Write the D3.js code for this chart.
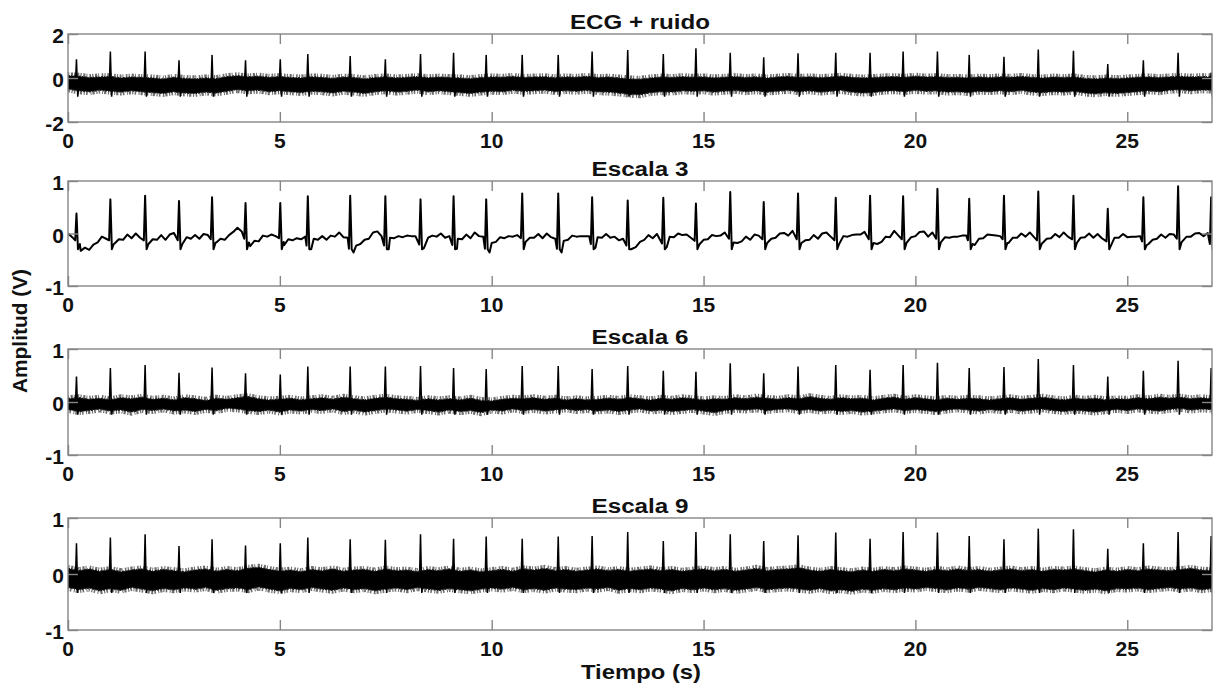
<!DOCTYPE html>
<html>
<head>
<meta charset="utf-8">
<script src="https://cdn.jsdelivr.net/npm/d3@7"></script>
<style>
  body{margin:0;background:#fff;}
  svg{display:block;font-family:"Liberation Sans",Arial,sans-serif;font-weight:bold;}
</style>
</head>
<body>
<script>
const W=1214, H=685;

const TITULOS=["ECG + ruido","Escala 3","Escala 6","Escala 9"];
const X_TICKS=[0,5,10,15,20,25];
const Y_TICKS=[[-2,0,2],[-1,0,1],[-1,0,1],[-1,0,1]];
const Y_DOMINIOS=[[-2,2],[-1,1],[-1,1],[-1,1]];

// instantes de los latidos (s)
const latidos=[0.20,1.00,1.82,2.62,3.40,4.19,5.01,5.66,6.66,7.49,
  8.32,9.10,9.87,10.72,11.57,12.37,13.21,14.05,14.82,15.63,16.42,17.23,
  18.12,18.93,19.71,20.52,21.27,22.09,22.90,23.73,24.54,25.38,26.20,26.98];

// amplitud de la onda R en cada panel
const picosRuido=[0.85,1.2,1.2,0.8,1.05,0.8,0.85,1.09,1.0,0.85,
  1.09,1.15,1.05,1.05,1.05,1.2,1.27,1.09,1.35,1.15,0.94,1.12,
  1.15,1.15,1.2,1.2,1.05,0.97,1.3,1.24,0.64,0.8,1.15,0.25];
const picos3=[0.38,0.65,0.72,0.62,0.69,0.58,0.58,0.71,0.72,0.71,
  0.65,0.71,0.65,0.76,0.76,0.69,0.63,0.68,0.57,0.79,0.60,0.76,
  0.68,0.72,0.71,0.85,0.66,0.72,0.80,0.72,0.47,0.69,0.90,0.69];
const picos6=[0.48,0.64,0.70,0.55,0.65,0.54,0.52,0.67,0.67,0.67,
  0.68,0.64,0.62,0.68,0.68,0.62,0.68,0.59,0.57,0.73,0.54,0.67,
  0.70,0.61,0.70,0.74,0.64,0.66,0.81,0.70,0.48,0.59,0.78,0.64];
const picos9=[0.55,0.65,0.71,0.50,0.62,0.51,0.55,0.65,0.62,0.61,
  0.71,0.63,0.67,0.63,0.67,0.68,0.75,0.59,0.75,0.71,0.59,0.69,
  0.74,0.63,0.75,0.74,0.68,0.62,0.81,0.80,0.45,0.55,0.75,0.68];

// valor minimo de la onda S en cada panel
const ondaS=[-0.85,-0.30,-0.24,-0.34];

// Escala 3: linea base cada 0.1 s
const base3=[
 0.00,-0.07,-0.08,-0.33,-0.27,-0.31,-0.21,-0.17,-0.06,-0.10,
 -0.08,-0.19,-0.11,-0.12,-0.02,-0.09,0.00,-0.08,-0.08,-0.15,
 -0.11,-0.12,-0.03,-0.12,-0.02,0.01,-0.08,-0.16,-0.07,-0.10,
 -0.03,-0.10,-0.01,-0.03,-0.06,-0.17,-0.10,-0.12,-0.03,0.03,
 0.11,0.04,-0.05,-0.24,-0.14,-0.15,-0.04,-0.06,-0.02,-0.05,
 -0.04,-0.22,-0.11,-0.13,-0.09,-0.11,-0.06,-0.18,-0.10,-0.12,
 -0.05,-0.12,-0.04,-0.06,0.02,-0.07,-0.08,-0.24,-0.23,-0.20,
 -0.12,-0.10,0.02,0.04,-0.05,-0.18,-0.08,-0.09,-0.05,-0.07,
 -0.04,-0.05,-0.05,-0.16,-0.07,-0.08,-0.04,-0.06,0.00,-0.08,
 -0.05,-0.17,-0.10,-0.11,-0.02,-0.09,0.02,-0.05,-0.06,-0.24,
 -0.18,-0.16,-0.07,-0.09,-0.05,-0.06,-0.03,-0.04,-0.16,-0.08,
 -0.08,-0.01,-0.09,0.00,-0.07,-0.10,-0.24,-0.14,-0.12,-0.04,
 -0.06,-0.05,-0.05,-0.05,-0.15,-0.07,-0.08,-0.01,-0.08,-0.06,
 -0.13,-0.10,-0.18,-0.18,-0.26,-0.16,-0.12,-0.03,-0.09,-0.01,
 -0.05,-0.14,-0.06,-0.07,0.00,-0.03,-0.02,-0.08,-0.09,-0.19,
 -0.12,-0.11,-0.03,-0.05,-0.04,0.02,-0.05,-0.27,-0.18,-0.15,
 -0.06,-0.12,-0.02,-0.04,-0.06,-0.20,-0.10,-0.08,0.00,0.01,
 -0.04,0.05,-0.06,-0.20,-0.13,-0.12,-0.03,-0.10,0.00,0.02,
 -0.06,-0.08,-0.14,-0.05,-0.06,-0.03,-0.02,-0.02,0.03,-0.06,
 -0.18,-0.20,-0.16,-0.06,-0.07,0.05,-0.04,-0.06,-0.14,-0.07,
 -0.05,0.03,0.04,-0.06,0.02,-0.05,-0.16,-0.07,-0.08,-0.06,
 -0.06,-0.04,-0.04,-0.08,-0.22,-0.10,-0.09,-0.02,-0.03,-0.04,
 -0.05,-0.06,-0.18,-0.08,-0.08,0.00,-0.06,0.02,-0.07,-0.08,
 -0.18,-0.10,-0.09,-0.01,-0.07,0.02,-0.06,-0.06,-0.17,-0.08,
 -0.07,0.00,-0.08,-0.01,-0.09,-0.10,-0.16,-0.08,-0.08,-0.01,
 -0.07,-0.06,-0.06,-0.05,-0.10,-0.20,-0.12,-0.10,-0.02,-0.08,
 -0.01,-0.02,-0.05,-0.15,-0.06,-0.06,0.00,0.01,-0.05,0.01,
 -0.15];

// bandas de ruido (borde superior / inferior) cada 0.25 s
const altoRuido=[0.10,0.08,0.02,0.05, 0.06,0.00,0.04,0.02, 0.00,-0.05,0.03,-0.02, -0.04,0.00,-0.03,0.06,
 0.10,0.05,0.08,0.03, 0.06,0.02,0.00,0.05, 0.03,-0.02,0.04,0.02, -0.04,0.02,0.05,0.00,
 0.03,0.06,0.01,0.04, 0.02,0.00,-0.03,0.02, 0.05,0.03,0.07,0.02, 0.04,0.06,0.01,0.05,
 0.03,0.07,0.02,0.04, 0.00,-0.04,-0.06,0.00, 0.04,0.02,0.06,0.03, 0.05,0.01,0.03,0.06,
 0.02,0.05,0.00,0.04, 0.07,0.03,0.05,0.02, 0.04,0.08,0.03,0.00, 0.02,0.05,0.06,0.03,
 0.08,0.04,0.06,0.02, 0.03,0.00,0.04,0.02, 0.05,0.03,0.07,0.02, 0.00,0.04,0.02,0.05,
 -0.02,-0.04,0.00,-0.03, 0.00,0.03,0.05,0.02, 0.05,0.07,0.04,0.06, 0.05];
const bajoRuido=[-0.50,-0.58,-0.62,-0.55, -0.60,-0.64,-0.58,-0.62, -0.66,-0.70,-0.62,-0.68, -0.70,-0.64,-0.68,-0.60,
 -0.52,-0.58,-0.55,-0.62, -0.58,-0.62,-0.66,-0.60, -0.62,-0.68,-0.60,-0.64, -0.70,-0.62,-0.58,-0.64,
 -0.60,-0.55,-0.62,-0.58, -0.62,-0.66,-0.70,-0.64, -0.60,-0.62,-0.56,-0.60, -0.58,-0.55,-0.62,-0.57,
 -0.60,-0.56,-0.62,-0.64, -0.68,-0.74,-0.76,-0.66, -0.62,-0.64,-0.58,-0.60, -0.58,-0.64,-0.60,-0.56,
 -0.62,-0.58,-0.64,-0.60, -0.56,-0.62,-0.58,-0.64, -0.60,-0.56,-0.64,-0.68, -0.66,-0.60,-0.58,-0.62,
 -0.56,-0.60,-0.58,-0.64, -0.62,-0.66,-0.60,-0.62, -0.58,-0.62,-0.56,-0.64, -0.66,-0.62,-0.64,-0.60,
 -0.68,-0.72,-0.66,-0.70, -0.66,-0.62,-0.58,-0.62, -0.56,-0.52,-0.58,-0.54, -0.55];
const alto6=[0.06,0.08,0.05,0.07, 0.04,0.08,0.06,0.09, 0.05,0.07,0.04,0.08, 0.06,0.03,0.07,0.05,
 0.08,0.10,0.06,0.04, 0.05,0.07,0.04,0.06, 0.08,0.05,0.09,0.06, 0.04,0.07,0.09,0.06,
 0.05,0.03,0.06,0.04, 0.06,0.04,0.07,0.03, 0.02,0.05,0.07,0.06, 0.08,0.05,0.07,0.04,
 0.06,0.04,0.05,0.07, 0.05,0.08,0.06,0.04, 0.07,0.05,0.08,0.06, 0.04,0.06,0.05,0.08,
 0.06,0.09,0.07,0.05, 0.08,0.06,0.10,0.07, 0.05,0.08,0.06,0.07, 0.04,0.07,0.09,0.05,
 0.08,0.06,0.04,0.07, 0.05,0.07,0.06,0.04, 0.06,0.08,0.05,0.07, 0.09,0.06,0.04,0.07,
 0.05,0.07,0.04,0.06, 0.05,0.08,0.06,0.09, 0.07,0.09,0.06,0.08, 0.06];
const bajo6=[-0.14,-0.18,-0.16,-0.13, -0.17,-0.15,-0.19,-0.14, -0.16,-0.13,-0.17,-0.15, -0.18,-0.14,-0.16,-0.12,
 -0.13,-0.16,-0.18,-0.15, -0.19,-0.15,-0.17,-0.14, -0.16,-0.13,-0.18,-0.15, -0.19,-0.16,-0.13,-0.15,
 -0.17,-0.14,-0.16,-0.19, -0.15,-0.18,-0.16,-0.20, -0.15,-0.17,-0.13,-0.16, -0.14,-0.17,-0.15,-0.13,
 -0.16,-0.14,-0.17,-0.15, -0.18,-0.15,-0.13,-0.17, -0.15,-0.18,-0.16,-0.14, -0.17,-0.20,-0.16,-0.14,
 -0.15,-0.13,-0.16,-0.14, -0.13,-0.16,-0.14,-0.17, -0.15,-0.18,-0.16,-0.19, -0.17,-0.15,-0.13,-0.16,
 -0.14,-0.16,-0.18,-0.15, -0.13,-0.15,-0.17,-0.14, -0.16,-0.14,-0.17,-0.15, -0.13,-0.16,-0.18,-0.15,
 -0.17,-0.19,-0.16,-0.14, -0.16,-0.13,-0.15,-0.17, -0.14,-0.12,-0.15,-0.13, -0.14];
const alto9=[0.10,0.06,0.09,0.05, 0.08,0.04,0.07,0.09, 0.05,0.08,0.06,0.04, 0.07,0.09,0.05,0.08,
 0.06,0.10,0.12,0.08, 0.05,0.07,0.04,0.08, 0.06,0.09,0.05,0.07, 0.08,0.05,0.09,0.06,
 0.07,0.04,0.08,0.06, 0.09,0.05,0.07,0.04, 0.06,0.08,0.05,0.09, 0.07,0.10,0.06,0.08,
 0.05,0.07,0.09,0.06, 0.08,0.05,0.07,0.09, 0.06,0.08,0.05,0.07, 0.09,0.06,0.08,0.05,
 0.07,0.10,0.06,0.08, 0.09,0.11,0.07,0.05, 0.08,0.06,0.04,0.07, 0.05,0.08,0.06,0.09,
 0.07,0.05,0.08,0.06, 0.09,0.06,0.08,0.05, 0.07,0.09,0.06,0.08, 0.05,0.08,0.07,0.09,
 0.06,0.04,0.07,0.05, 0.08,0.06,0.09,0.07, 0.06,0.08,0.10,0.07, 0.06];
const bajo9=[-0.24,-0.28,-0.25,-0.30, -0.26,-0.29,-0.24,-0.27, -0.30,-0.26,-0.28,-0.25, -0.27,-0.24,-0.29,-0.26,
 -0.25,-0.28,-0.23,-0.27, -0.30,-0.26,-0.28,-0.24, -0.27,-0.29,-0.25,-0.28, -0.26,-0.30,-0.27,-0.25,
 -0.28,-0.24,-0.27,-0.29, -0.26,-0.28,-0.30,-0.27, -0.25,-0.27,-0.24,-0.28, -0.26,-0.29,-0.25,-0.27,
 -0.28,-0.25,-0.27,-0.24, -0.29,-0.26,-0.28,-0.25, -0.27,-0.30,-0.26,-0.28, -0.25,-0.28,-0.26,-0.29,
 -0.27,-0.24,-0.28,-0.26, -0.25,-0.27,-0.29,-0.26, -0.30,-0.28,-0.31,-0.27, -0.29,-0.26,-0.28,-0.25,
 -0.27,-0.24,-0.26,-0.28, -0.25,-0.27,-0.24,-0.26, -0.28,-0.25,-0.27,-0.29, -0.26,-0.28,-0.25,-0.27,
 -0.29,-0.27,-0.30,-0.26, -0.27,-0.25,-0.28,-0.26, -0.24,-0.27,-0.25,-0.28, -0.26];

const PASO_BANDA=0.25, PASO_BASE=0.1;

// posicion de cada panel (px)
const margin={left:68,right:1212};
const paneles=[
  {top:34, bottom:122, picos:picosRuido, alto:altoRuido, bajo:bajoRuido},
  {top:181,bottom:286, picos:picos3, base:base3},
  {top:349,bottom:455, picos:picos6, alto:alto6, bajo:bajo6},
  {top:518,bottom:630, picos:picos9, alto:alto9, bajo:bajo9}
];

const svg=d3.select("body").append("svg").attr("width",W).attr("height",H);
const xScale=d3.scaleLinear().domain([0,27]).range([margin.left,margin.right]);

paneles.forEach((p,k)=>{
  const yScale=d3.scaleLinear().domain(Y_DOMINIOS[k]).range([p.bottom,p.top]);
  const g=svg.append("g");

  svg.append("clipPath").attr("id","clip"+k)
    .append("rect").attr("x",margin.left).attr("y",p.top)
    .attr("width",margin.right-margin.left).attr("height",p.bottom-p.top);
  const plot=g.append("g").attr("clip-path",`url(#clip${k})`);

  if(p.alto){
    const banda=p.alto.map((a,i)=>({t:i*PASO_BANDA,a:a,b:p.bajo[i]}));
    const area=d3.area().x(d=>xScale(d.t)).y0(d=>yScale(d.b)).y1(d=>yScale(d.a));
    // halo gris punteado (picos sueltos del ruido)
    plot.append("path").attr("d",area(banda))
      .attr("fill","none").attr("stroke","#6e6e6e").attr("stroke-width",7)
      .attr("stroke-dasharray","1.2,1.6,2.2,1,1,2.4,1.6,1.2");
    plot.append("path").attr("d",area(banda))
      .attr("fill","#000").attr("stroke","#1a1a1a").attr("stroke-width",1.5)
      .attr("stroke-dasharray","2,1,1,1.5");

    const linea=d3.line().x(d=>xScale(d[0])).y(d=>yScale(d[1]));
    latidos.forEach((t,i)=>{
      const j=Math.min(banda.length-1,Math.round(t/PASO_BANDA));
      const c=(banda[j].a+banda[j].b)/2;
      const pts=[[t-0.025,c],[t,p.picos[i]],[t+0.03,ondaS[k]],[t+0.06,c]];
      plot.append("path").attr("d",linea(pts))
        .attr("fill","none").attr("stroke","#000").attr("stroke-width",1.5);
    });
  } else {
    let pts=p.base.map((v,i)=>[i*PASO_BASE,v]);
    latidos.forEach((t,i)=>{
      pts=pts.filter(d=>d[0]<t-0.05||d[0]>t+0.09);
      const j=Math.round(t/PASO_BASE);
      const b=p.base[Math.min(j,p.base.length-1)];
      pts.push([t-0.03,b-0.05],[t,p.picos[i]],[t+0.035,ondaS[k]],[t+0.08,b-0.12]);
    });
    pts.sort((a,b)=>a[0]-b[0]);
    const linea=d3.line().x(d=>xScale(d[0])).y(d=>yScale(d[1]));
    plot.append("path").attr("d",linea(pts))
      .attr("fill","none").attr("stroke","#000").attr("stroke-width",2).attr("stroke-linejoin","round");
  }

  // marco y marcas hacia dentro (estilo MATLAB)
  const gris="#858585";
  g.append("rect").attr("x",margin.left).attr("y",p.top)
    .attr("width",margin.right-margin.left).attr("height",p.bottom-p.top)
    .attr("fill","none").attr("stroke",gris).attr("stroke-width",1.4);

  const tickLen=10;
  const ejeAbajo=d3.axisBottom(xScale).tickValues(X_TICKS).tickSize(-tickLen).tickFormat("");
  const ejeArriba=d3.axisTop(xScale).tickValues(X_TICKS).tickSize(-tickLen).tickFormat("");
  const ejeIzq=d3.axisLeft(yScale).tickValues(Y_TICKS[k]).tickSize(-tickLen).tickFormat("");
  const ejeDer=d3.axisRight(yScale).tickValues(Y_TICKS[k]).tickSize(-tickLen).tickFormat("");
  [[ejeAbajo,`translate(0,${p.bottom})`],[ejeArriba,`translate(0,${p.top})`],
   [ejeIzq,`translate(${margin.left},0)`],[ejeDer,`translate(${margin.right},0)`]].forEach(([ax,tr])=>{
    const a=g.append("g").attr("transform",tr).call(ax);
    a.select(".domain").remove();
    a.selectAll("line").attr("stroke",gris).attr("stroke-width",1.4);
  });

  // etiquetas de los ejes
  g.selectAll(".xl").data(X_TICKS).enter().append("text")
    .attr("x",d=>xScale(d)).attr("y",p.bottom+26)
    .attr("text-anchor","middle").attr("font-size",21).attr("fill","#111")
    .text(d=>d);
  g.selectAll(".yl").data(Y_TICKS[k]).enter().append("text")
    .attr("x",margin.left-4).attr("y",d=>yScale(d)+9)
    .attr("text-anchor","end").attr("font-size",21).attr("fill","#111")
    .text(d=>d);

  g.append("text").attr("x",(margin.left+margin.right)/2).attr("y",p.top-5)
    .attr("text-anchor","middle").attr("font-size",20).attr("fill","#111")
    .attr("textLength",k===0?140:97).attr("lengthAdjust","spacingAndGlyphs")
    .text(TITULOS[k]);
});

svg.append("text").attr("x",641).attr("y",679)
  .attr("text-anchor","middle").attr("font-size",21).attr("fill","#111")
  .attr("textLength",120).attr("lengthAdjust","spacingAndGlyphs")
  .text("Tiempo (s)");
svg.append("text").attr("transform","translate(27,331) rotate(-90)")
  .attr("text-anchor","middle").attr("font-size",21).attr("fill","#111")
  .attr("textLength",124).attr("lengthAdjust","spacingAndGlyphs")
  .text("Amplitud (V)");
</script>
</body>
</html>
